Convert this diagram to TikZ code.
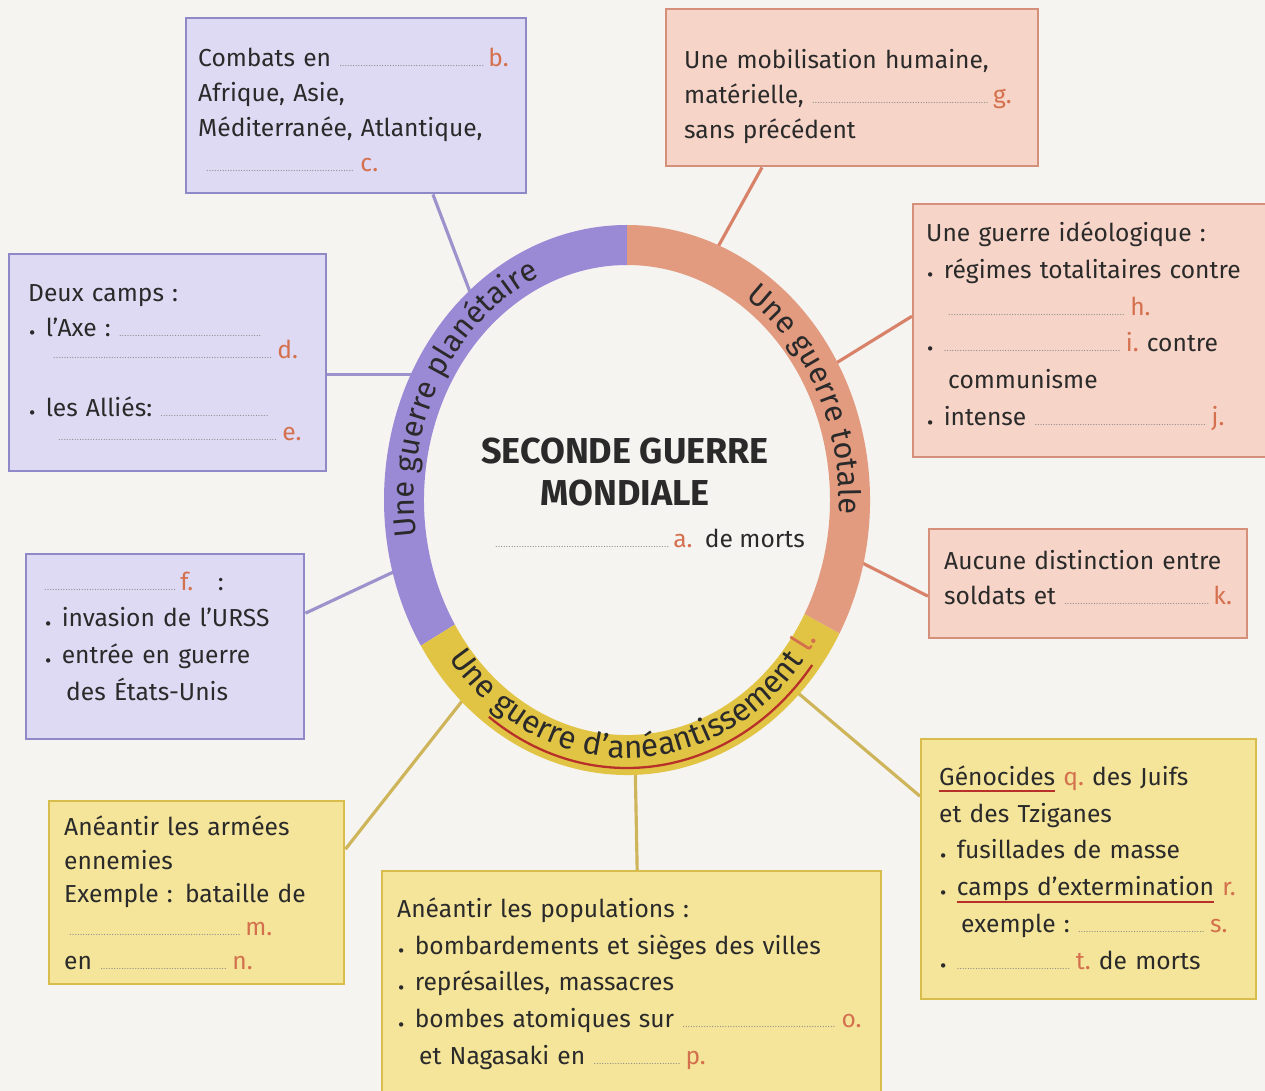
\documentclass[tikz,border=0pt]{standalone}
\usepackage{fontspec}
\setmainfont{Fira Sans}
\usetikzlibrary{decorations.text,calc}
\pgfdeclarelayer{conn}
\pgfdeclarelayer{ring}
\pgfsetlayers{conn,ring,main}
\definecolor{bg}{HTML}{F5F4F1}
\definecolor{ink}{HTML}{2B2A2A}
\definecolor{pfill}{HTML}{DEDAF3}
\definecolor{pline}{HTML}{8F89C8}
\definecolor{pband}{HTML}{9A8AD6}
\definecolor{pcol}{HTML}{9C93CC}
\definecolor{ofill}{HTML}{F6D4C7}
\definecolor{oline}{HTML}{D4907A}
\definecolor{oband}{HTML}{E39B80}
\definecolor{ocol}{HTML}{D8826A}
\definecolor{yfill}{HTML}{F4E59A}
\definecolor{yline}{HTML}{D9BD4C}
\definecolor{yband}{HTML}{E2C445}
\definecolor{ycol}{HTML}{CFB55A}
\definecolor{lab}{HTML}{D4704D}
\definecolor{ulc}{HTML}{B8302A}
\definecolor{dotc}{HTML}{8A8A8A}
\newdimen\pxu \pxu=0.02cm
\newcommand\blk[2]{\hbox to #1\pxu{\color{dotc}\leaders\hbox to 1.5pt{\hss\fontsize{5}{5}\selectfont.\hss}\hfill}\,{\color{lab}#2}}
\newcommand\bul{\makebox[10pt][l]{\hspace{0.5pt}\raisebox{-0.25ex}{\fontsize{11}{11}\selectfont•}}}
\newcommand\ulr[1]{\setbox0\hbox{#1}\rlap{\color{ulc}\rule[-4pt]{\wd0}{1.1pt}}\box0\relax}
\newcommand\ringfont{\fontsize{17.5}{20}\selectfont}
\newcommand\ringfontb{\fontsize{18}{20}\selectfont}
\newcommand\bfa{\fontsize{14}{20}\selectfont}
\newcommand\bfb{\fontsize{14}{21}\selectfont}
\newcommand\bfc{\fontsize{14}{19}\selectfont}
\begin{document}
\begin{tikzpicture}[x=0.02cm,y=0.02cm,
  box/.style={anchor=north west, align=left, inner ysep=0pt, line width=1.4pt, font=\bfa, text=ink},
  pbox/.style={box, fill=pfill, draw=pline},
  obox/.style={box, fill=ofill, draw=oline},
  ybox/.style={box, fill=yfill, draw=yline},
  pconn/.style={draw=pcol, line width=1.8pt},
  oconn/.style={draw=ocol, line width=1.8pt},
  yconn/.style={draw=ycol, line width=1.8pt},
  ringtext/.style={decorate, decoration={text along path, text align=center, text color=ink}}]
\begin{pgfonlayer}{conn}
\fill[bg] (0,0) rectangle (1265,-1091);
\end{pgfonlayer}
\useasboundingbox (0,0) rectangle (1265,-1091);
\clip (0,0) rectangle (1265,-1091);
\coordinate (c) at (627,-500);
% ring anchor points for connectors
\coordinate (rB) at ([shift={(c)}]131:236 and 268);
\coordinate (rD) at ([shift={(c)}]152:236 and 268);
\coordinate (rF) at ([shift={(c)}]195:236 and 268);
\coordinate (rG) at ([shift={(c)}]68:236 and 268);
\coordinate (rH) at ([shift={(c)}]30:236 and 268);
\coordinate (rK) at ([shift={(c)}]-13:236 and 268);
\coordinate (rM) at ([shift={(c)}]227:236 and 268);
\coordinate (rO) at ([shift={(c)}]272:236 and 268);
\coordinate (rQ) at ([shift={(c)}]-45:236 and 268);
% boxes
\node[pbox, minimum width=6.8cm, minimum height=3.5cm, inner xsep=0.24cm, text width=6.32cm] (B) at (185,-17)
 {\rule{0pt}{15pt}Combats en~\blk{145}{b.}\\ Afrique, Asie,\\ Méditerranée, Atlantique,\\ \hspace*{8\pxu}\blk{150}{c.}};
\node[obox, minimum width=7.44cm, minimum height=3.14cm, inner xsep=0.36cm, text width=6.72cm] (G) at (665,-8)
 {\rule{0pt}{21pt}Une mobilisation humaine,\\ matérielle,~\blk{177}{g.}\\ sans précédent};
\node[pbox, minimum width=6.34cm, minimum height=4.34cm, inner xsep=0.38cm, text width=5.58cm] (D) at (8,-253)
 {Deux camps :\\ \bul l’Axe :~\blk{144}{}\\[-7.5pt] \hspace*{25\pxu}\blk{220}{d.}\\[13pt] \bul les Alliés:~\blk{109}{}\\[-6pt] \hspace*{30\pxu}\blk{220}{e.}};
\node[pbox, font=\bfb, minimum width=5.56cm, minimum height=3.7cm, inner xsep=0.36cm, text width=4.84cm] (F) at (25,-553)
 {\blk{132}{f.}\quad :\\ \bul invasion de l’URSS\\ \bul entrée en guerre\\ \hspace*{22\pxu}des États-Unis\rule[-12pt]{0pt}{12pt}};
\node[obox, font=\bfb, minimum width=7.36cm, minimum height=5.06cm, inner xsep=0.26cm, text width=6.84cm] (H) at (912,-203)
 {Une guerre idéologique :\\ \mbox{\bul régimes totalitaires contre}\\ \hspace*{22\pxu}\blk{178}{h.}\\ \bul\blk{178}{i.}~contre\\ \hspace*{22\pxu}communisme\\ \bul intense~\blk{173}{j.}\rule[-8pt]{0pt}{8pt}};
\node[obox, minimum width=6.36cm, minimum height=2.18cm, inner xsep=0.3cm, text width=5.76cm] (K) at (928,-528)
 {\mbox{Aucune distinction entre}\\ soldats et~\blk{145}{k.}\rule[-7pt]{0pt}{7pt}};
\node[ybox, font=\bfb, minimum width=6.7cm, minimum height=5.2cm, inner xsep=0.36cm, text width=5.98cm] (Q) at (920,-738)
 {\ulr{Génocides}~{\color{lab}q.}~des Juifs\\ et des Tziganes\\ \bul fusillades de masse\\ \mbox{\bul\ulr{camps d’extermination}~{\color{lab}r.}}\\ \hspace*{22\pxu}exemple~:~\blk{128}{s.}\\ \bul\blk{115}{t.}~de morts};
\node[ybox, font=\bfc, minimum width=5.9cm, minimum height=3.66cm, inner xsep=0.3cm, text width=5.3cm] (M) at (48,-800)
 {Anéantir les armées\\ ennemies\\ Exemple : bataille de\\ \hspace*{5\pxu}\blk{172}{m.}\\ en~\blk{128}{n.}};
\node[ybox, font=\bfb, minimum width=9.98cm, minimum height=4.5cm, inner xsep=0.3cm, text width=9.38cm] (O) at (381,-870)
 {Anéantir les populations :\\ \bul bombardements et sièges des villes\\ \bul représailles, massacres\\ \mbox{\bul bombes atomiques sur \blk{155}{o.}}\\ \hspace*{22\pxu}et Nagasaki en~\blk{88}{p.}};
% centre
\node[font=\bfseries\fontsize{20.5}{24}\selectfont, align=center, text=ink] (title) at (625,-472) {SECONDE GUERRE\\MONDIALE};
\node[font=\bfa, text=ink, anchor=base] (morts) at (650,-547) {\blk{174}{a.}\enspace de morts};
% connectors
\begin{pgfonlayer}{conn}
\draw[pconn] ([xshift=4.96cm]B.south west) -- (rB);
\draw[pconn] (rD -| D.east) -- (rD);
\draw[pconn] ([yshift=0.67cm]F.east) -- (rF);
\draw[oconn] ([xshift=1.94cm]G.south west) -- (rG);
\draw[oconn] ([yshift=0.29cm]H.west) -- (rH);
\draw[oconn] ([yshift=-0.25cm]K.west) -- (rK);
\draw[yconn] ([yshift=0.87cm]M.east) -- (rM);
\draw[yconn] ([xshift=0.11cm]O.north) -- (rO);
\draw[yconn] ([yshift=1.46cm]Q.west) -- (rQ);
\end{pgfonlayer}
% ring
\begin{pgfonlayer}{ring}
\fill[pband] ([shift={(c)}]90:243 and 275) arc[start angle=90, end angle=212, x radius=243, y radius=275]
  -- ([shift={(c)}]212:203 and 235) arc[start angle=212, end angle=90, x radius=203, y radius=235] -- cycle;
\fill[yband] ([shift={(c)}]212:243 and 275) arc[start angle=212, end angle=331, x radius=243, y radius=275]
  -- ([shift={(c)}]331:203 and 235) arc[start angle=331, end angle=212, x radius=203, y radius=235] -- cycle;
\fill[oband] ([shift={(c)}]331:243 and 275) arc[start angle=331, end angle=450, x radius=243, y radius=275]
  -- ([shift={(c)}]450:203 and 235) arc[start angle=450, end angle=331, x radius=203, y radius=235] -- cycle;
\path[ringtext, decoration={text={|\ringfont|Une guerre planétaire}}]
  ([shift={(c)}]210:213 and 245) arc[start angle=210, end angle=90, x radius=213, y radius=245];
\path[ringtext, decoration={text={|\ringfont|Une guerre totale}}]
  ([shift={(c)}]88:212 and 244) arc[start angle=88, end angle=-32, x radius=212, y radius=244];
\path[ringtext, decoration={text={|\ringfontb|Une guerre d’anéantissement |\ringfontb\color{lab}|l.}}]
  ([shift={(c)}]200:226 and 258) arc[start angle=200, end angle=345, x radius=226, y radius=258];
\draw[ulc, line width=1.3pt] ([shift={(c)}]234:235 and 268) arc[start angle=234, end angle=322, x radius=235, y radius=268];
\end{pgfonlayer}
\end{tikzpicture}
\end{document}
